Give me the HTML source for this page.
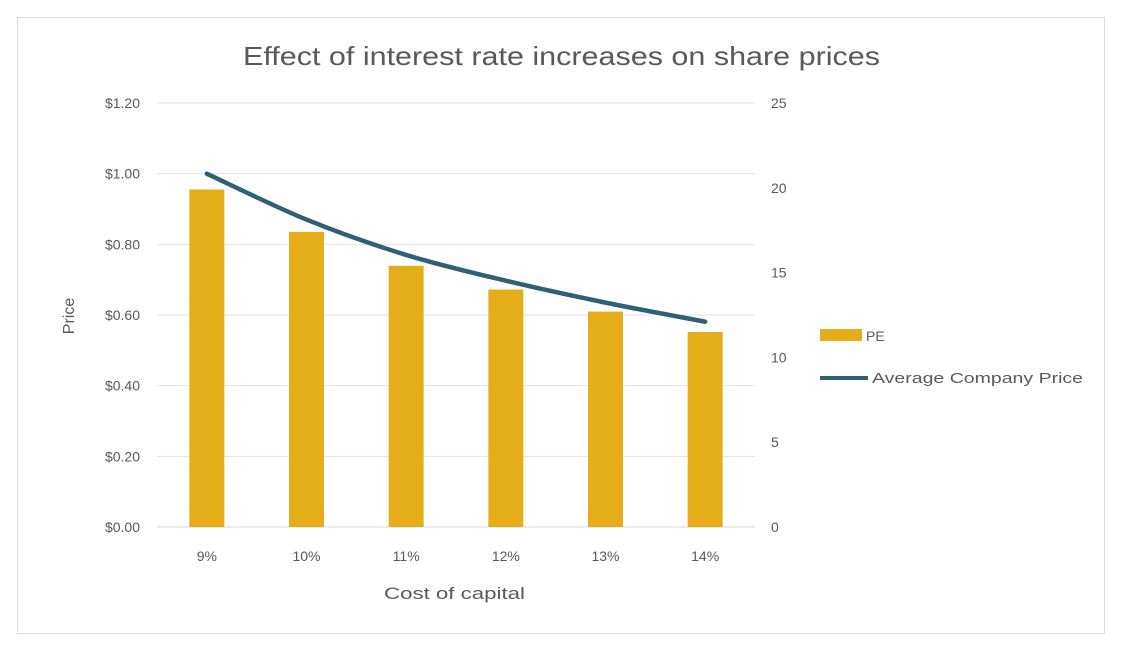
<!DOCTYPE html>
<html><head><meta charset="utf-8"><style>
body{margin:0;background:#fff;font-family:"Liberation Sans",sans-serif}
svg text{font-family:"Liberation Sans",sans-serif;fill:#595959}
</style></head><body>
<svg width="1124" height="653">
<rect x="17.5" y="17.5" width="1087" height="616" fill="#fff" stroke="#d9d9d9"/>
<text x="243" y="65" font-size="26" textLength="637" lengthAdjust="spacingAndGlyphs">Effect of interest rate increases on share prices</text>
<g id="grid"></g><g id="bars"></g><g id="line"></g><g id="axes"></g>
<text x="384" y="599" font-size="17" textLength="141" lengthAdjust="spacingAndGlyphs">Cost of capital</text>
<text transform="translate(74,316) rotate(-90)" font-size="16" text-anchor="middle">Price</text>
<g><rect x="820" y="329" width="42" height="12" fill="#e6ad1b"/><text x="866" y="341" font-size="14">PE</text></g>
<g><line x1="820" y1="378" x2="868" y2="378" stroke="#2e6173" stroke-width="4"/><text x="872" y="383" font-size="15" textLength="211" lengthAdjust="spacingAndGlyphs">Average Company Price</text></g>
</svg>
<script>
const categories=["9%","10%","11%","12%","13%","14%"];
const peValues=[19.9,17.4,15.4,14.0,12.7,11.5];
const priceValues=[1.00,0.87,0.77,0.697,0.635,0.581];
const leftTicks=[0,0.2,0.4,0.6,0.8,1.0,1.2];
const rightTicks=[0,5,10,15,20,25];
const NS="http://www.w3.org/2000/svg";
const x0=157,x1=755,y0=527,yTop=103;
const cw=(x1-x0)/categories.length;
const xc=i=>x0+cw*(i+0.5);
const yL=v=>y0-(y0-yTop)*v/1.2;
const yR=v=>y0-(y0-yTop)*v/25;
function mk(t,a,p){const e=document.createElementNS(NS,t);for(const k in a)e.setAttribute(k,a[k]);document.getElementById(p).appendChild(e);return e;}
leftTicks.forEach(v=>{
 const g=mk('line',{x1:x0,x2:x1,y1:yL(v),y2:yL(v),stroke:v===0?'#d9d9d9':'#e3e3e3','stroke-width':1},'grid');
 
 
 const t=mk('text',{x:140,y:yL(v)+5,'font-size':14,'text-anchor':'end'},'axes');
 t.textContent='$'+v.toFixed(2);
 
 
});
rightTicks.forEach(v=>{
 const t=mk('text',{x:771,y:yR(v)+5,'font-size':14},'axes');
 t.textContent=v;
 
 
});
categories.forEach((c,i)=>{
 const t=mk('text',{x:xc(i),y:561,'font-size':14,'text-anchor':'middle'},'axes');
 t.textContent=c;
 
 
 const b=mk('rect',{x:xc(i)-17.5,y:yR(peValues[i]),width:35,height:y0-yR(peValues[i]),fill:'#e6ad1b'},'bars');
 
 
});
const pts=priceValues.map((v,i)=>[xc(i),yL(v)]);
let d='M'+pts[0][0]+','+pts[0][1];
for(let i=0;i<pts.length-1;i++){
 const p0=pts[Math.max(i-1,0)],p1=pts[i],p2=pts[i+1],p3=pts[Math.min(i+2,pts.length-1)];
 const c1=[p1[0]+(p2[0]-p0[0])/6,p1[1]+(p2[1]-p0[1])/6],c2=[p2[0]-(p3[0]-p1[0])/6,p2[1]-(p3[1]-p1[1])/6];
 d+=` C${c1[0]},${c1[1]} ${c2[0]},${c2[1]} ${p2[0]},${p2[1]}`;
}
const l=mk('path',{d:d,fill:'none',stroke:'#2e6173','stroke-width':4.5,'stroke-linecap':'round'},'line');


</script>
</body></html>
